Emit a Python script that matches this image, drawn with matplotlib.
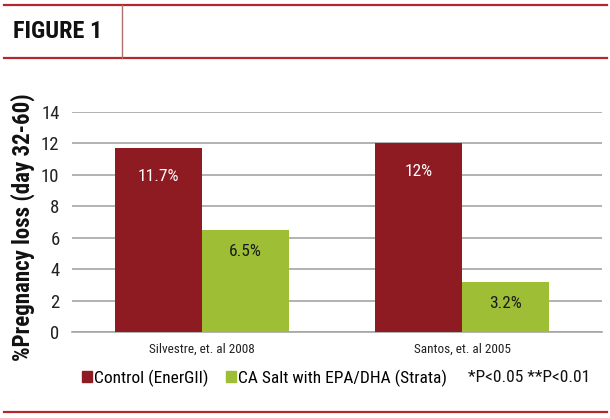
import matplotlib
matplotlib.use("Agg")
import matplotlib.pyplot as plt
from matplotlib import font_manager as fm
from matplotlib.patches import Patch
from matplotlib.lines import Line2D
import numpy as np
import os

# ---- data ----
categories = ["Silvestre, et. al 2008", "Santos, et. al 2005"]
series_names = ["Control (EnerGII)", "CA Salt with EPA/DHA (Strata)"]
control_vals = [11.7, 12.0]
strata_vals = [6.5, 3.2]
control_labels = ["11.7%", "12%"]
strata_labels = ["6.5%", "3.2%"]
yticks = [0, 2, 4, 6, 8, 10, 12, 14]
note = "*P<0.05 **P<0.01"
title = "FIGURE 1"
ylabel = "%Pregnancy loss (day 32-60)"

# ---- fonts: look for a condensed face ----
files = fm.findSystemFonts()
def find(keys_list):
    for keys in keys_list:
        for f in sorted(files):
            b = os.path.basename(f).lower()
            if all(k.lower() in b for k in keys):
                return f
    return None

reg_file = find([["liberationsansnarrow-regular"], ["robotocondensed-regular"],
                 ["dejavusanscondensed."], ["condensed", "regular"], ["narrow", "regular"]])
bold_file = find([["liberationsansnarrow-bold."], ["robotocondensed-bold."],
                  ["dejavusanscondensed-bold."], ["condensed", "bold"], ["narrow", "bold"]])

def FP(size, bold=False):
    f = bold_file if bold else reg_file
    if f:
        return fm.FontProperties(fname=f, size=size)
    return fm.FontProperties(family="DejaVu Sans", size=size * 0.85,
                             weight="bold" if bold else "normal")

RED = "#8E1A22"
GREEN = "#9DBE35"
LINE_RED = "#B3272E"
GRID = "#A6A6A6"

W, H = 610, 418
fig = plt.figure(figsize=(W / 100, H / 100), dpi=100)

def fx(px):
    return px / W

def fy(py):
    return 1 - py / H

# header / footer lines
fig.add_artist(Line2D([fx(4), fx(607)], [fy(5), fy(5)], color=LINE_RED, lw=1.6))
fig.add_artist(Line2D([fx(4), fx(607)], [fy(58), fy(58)], color=LINE_RED, lw=1.6))
fig.add_artist(Line2D([fx(122), fx(122)], [fy(5), fy(58)], color="#B07070", lw=1.0))
fig.add_artist(Line2D([fx(4), fx(607)], [fy(412), fy(412)], color=LINE_RED, lw=1.6))
fig.text(fx(13), fy(32), title, fontproperties=FP(17.5, True), va="center", ha="left",
         color="#111111")

# axes
left, right, top, bottom = 72, 602, 112, 332
ax = fig.add_axes([fx(left), fy(bottom), fx(right - left), (bottom - top) / H])
x = np.arange(len(categories))
bw = 0.335
b1 = ax.bar(x - bw / 2, control_vals, bw, color=RED, zorder=3)
b2 = ax.bar(x + bw / 2, strata_vals, bw, color=GREEN, zorder=3)
ax.set_xlim(-0.5, 1.538)
ax.set_ylim(0, 14)
ax.set_yticks(yticks)
ax.yaxis.grid(True, color=GRID, lw=1.2, zorder=0)
for s in ["top", "right", "left"]:
    ax.spines[s].set_visible(False)
ax.spines["bottom"].set_color(GRID)
ax.spines["bottom"].set_linewidth(1.2)
ax.tick_params(axis="y", length=0, pad=9, labelcolor="#222222")
ax.tick_params(axis="x", length=0, pad=8, labelcolor="#222222")
ax.set_xticks(x)
ax.set_xticklabels(categories)
for t in ax.get_yticklabels():
    t.set_fontproperties(FP(13.5))
for t in ax.get_xticklabels():
    t.set_fontproperties(FP(9.5))

for rect, lab in zip(b1, control_labels):
    h = rect.get_height()
    ax.text(rect.get_x() + rect.get_width() / 2, h - 1.8, lab, ha="center", va="center",
            color="white", fontproperties=FP(12.5), zorder=4)
for rect, lab in zip(b2, strata_labels):
    h = rect.get_height()
    ax.text(rect.get_x() + rect.get_width() / 2, h - 1.4, lab, ha="center", va="center",
            color="#1a1a1a", fontproperties=FP(12.5), zorder=4)

fig.text(fx(23), fy(227), ylabel, rotation=90, fontproperties=FP(16.5, True),
         ha="center", va="center", color="#111111")

handles = [Patch(color=RED), Patch(color=GREEN)]
leg = fig.legend(handles, series_names, loc="center left", bbox_to_anchor=(fx(82), fy(378)),
                 ncol=2, frameon=False, prop=FP(12.5), handlelength=0.55, handleheight=0.55,
                 handletextpad=0.15, columnspacing=1.0, borderaxespad=0, borderpad=0)
fig.text(fx(590), fy(378), note, fontproperties=FP(12.5), ha="right", va="center",
         color="#111111")

fig.savefig("out.png", dpi=100)
